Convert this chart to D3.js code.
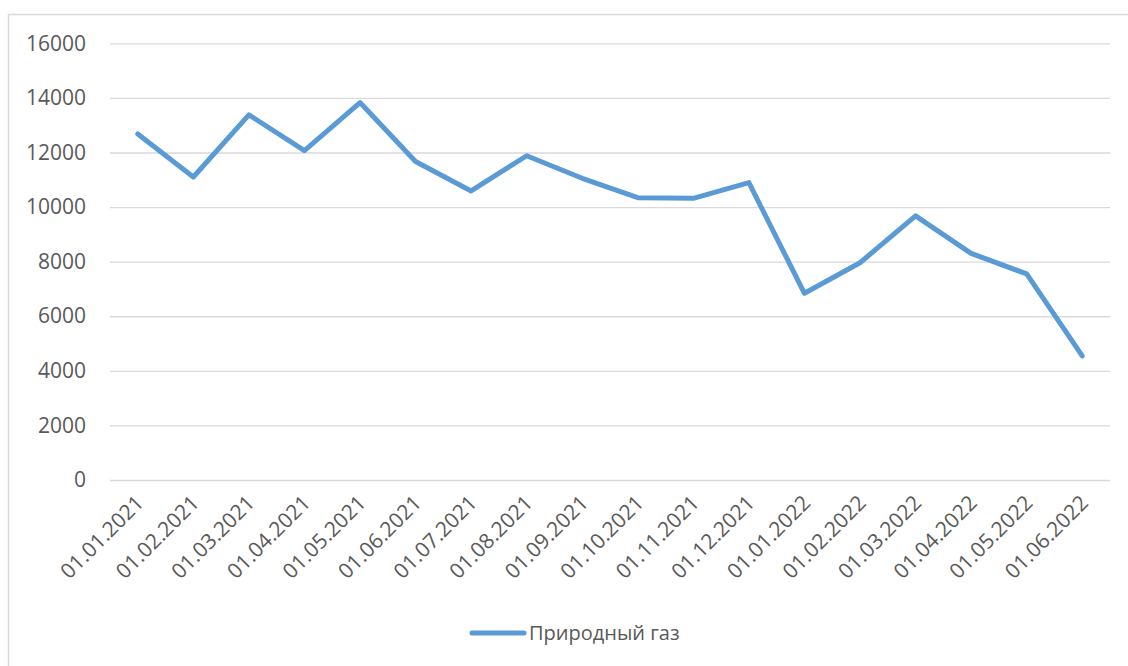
<!DOCTYPE html>
<html><head><meta charset="utf-8">
<script src="https://cdn.jsdelivr.net/npm/d3@7"></script>
<style>body{margin:0;background:#fff;} text{font-family:"Open Sans",sans-serif;fill:#595959;}</style>
</head><body>
<svg id="c" width="1128" height="666"></svg>
<script>
const categories = ["01.01.2021","01.02.2021","01.03.2021","01.04.2021","01.05.2021","01.06.2021","01.07.2021","01.08.2021","01.09.2021","01.10.2021","01.11.2021","01.12.2021","01.01.2022","01.02.2022","01.03.2022","01.04.2022","01.05.2022","01.06.2022"];
const gasValues = [12680,11100,13380,12070,13830,11670,10590,11880,11055,10345,10320,10895,6840,7960,9675,8305,7550,4545];
const yTicks = [0,2000,4000,6000,8000,10000,12000,14000,16000];
const seriesName = "Природный газ";

const svg = d3.select("#c");
svg.append("rect").attr("x",8.5).attr("y",14.5).attr("width",1300).attr("height",800)
  .attr("fill","#fff").attr("stroke","#d9d9d9").attr("stroke-width",1.5);

const x = d3.scaleBand().domain(categories).range([110,1110]);
const y = d3.scaleLinear().domain([0,16000]).range([480,43.3]);

const gy = svg.append("g").attr("transform","translate(110,0)")
  .call(d3.axisLeft(y).tickValues(yTicks).tickSize(-1000).tickPadding(24).tickFormat(d3.format("d")));
gy.select(".domain").remove();
gy.selectAll(".tick line").attr("stroke","#d9d9d9").attr("stroke-width",1.3);
gy.selectAll(".tick text").style("font-size","21px").attr("fill","#595959");

const gx = svg.append("g").attr("transform","translate(0,480)")
  .call(d3.axisBottom(x).tickSize(0).tickPadding(0));
gx.select(".domain").remove();
gx.selectAll(".tick text").style("font-size","21px").attr("fill","#595959")
  .attr("text-anchor","end").attr("dy","0.35em")
  .attr("transform","translate(2,19) rotate(-45)");

const line = d3.line().x((d,i)=>x(categories[i])+x.bandwidth()/2).y(d=>y(d));
svg.append("path").datum(gasValues).attr("d",line).attr("fill","none")
  .attr("stroke","#5b9bd5").attr("stroke-width",5).attr("stroke-linejoin","round").attr("stroke-linecap","round");

const lg = svg.append("g");
lg.append("line").attr("x1",472).attr("x2",524).attr("y1",633).attr("y2",633)
  .attr("stroke","#5b9bd5").attr("stroke-width",5).attr("stroke-linecap","round");
lg.append("text").attr("x",529).attr("y",633).attr("dy","0.35em").style("font-size","20px").text(seriesName);
</script>
</body></html>
